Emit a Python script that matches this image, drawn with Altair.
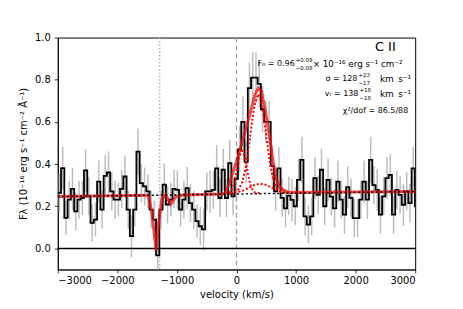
import altair as alt
import numpy as np
import pandas as pd

# ---------------- data ----------------
V_START = -3000
BIN_WIDTH = 55

flux = [0.263, 0.381, 0.145, 0.231, 0.282, 0.176, 0.231, 0.239, 0.370, 0.247,
        0.121, 0.137, 0.317, 0.184, 0.344, 0.360, 0.270, 0.231, 0.231, 0.282,
        0.341, 0.184, 0.058, 0.184, 0.459, 0.310, 0.294, 0.270, 0.184, 0.137,
        -0.033, 0.184, 0.302, 0.208, 0.231, 0.282, 0.278, 0.184, 0.231, 0.286,
        0.215, 0.184, 0.129, 0.105, 0.090, 0.270, 0.270, 0.278, 0.380, 0.239,
        0.373, 0.239, 0.404, 0.247, 0.330, 0.470, 0.600, 0.410, 0.760, 0.810,
        0.810, 0.780, 0.660, 0.600, 0.600, 0.390, 0.270, 0.380, 0.240, 0.190,
        0.250, 0.230, 0.200, 0.325, 0.420, 0.152, 0.113, 0.152, 0.333, 0.254,
        0.373, 0.200, 0.325, 0.246, 0.190, 0.317, 0.231, 0.160, 0.290, 0.240,
        0.144, 0.144, 0.231, 0.317, 0.231, 0.420, 0.300, 0.278, 0.160, 0.247,
        0.333, 0.349, 0.160, 0.278, 0.254, 0.207, 0.270, 0.215, 0.380, 0.200]

err = [0.09, 0.10, 0.08, 0.09, 0.10, 0.09, 0.09, 0.08, 0.10, 0.09,
       0.09, 0.08, 0.10, 0.09, 0.10, 0.10, 0.09, 0.09, 0.08, 0.09,
       0.10, 0.09, 0.10, 0.08, 0.11, 0.09, 0.09, 0.08, 0.09, 0.09,
       0.11, 0.09, 0.10, 0.09, 0.08, 0.09, 0.09, 0.08, 0.09, 0.10,
       0.09, 0.09, 0.08, 0.09, 0.10, 0.09, 0.10, 0.09, 0.11, 0.09,
       0.10, 0.09, 0.11, 0.09, 0.10, 0.11, 0.12, 0.10, 0.12, 0.12,
       0.12, 0.11, 0.11, 0.10, 0.10, 0.10, 0.09, 0.10, 0.09, 0.09,
       0.09, 0.10, 0.09, 0.10, 0.11, 0.09, 0.09, 0.09, 0.10, 0.09,
       0.10, 0.09, 0.10, 0.09, 0.09, 0.10, 0.09, 0.09, 0.10, 0.09,
       0.09, 0.09, 0.09, 0.10, 0.09, 0.11, 0.09, 0.10, 0.09, 0.09,
       0.10, 0.10, 0.09, 0.09, 0.09, 0.10, 0.09, 0.09, 0.10, 0.09]

fit_v = [-3000, -1480, -1420, -1350, -1300, -1250, -1190, -1100, -1020, -900,
         -250, -190, -110, -50, 0, 60, 140, 225, 310, 365, 420, 500, 560, 615,
         670, 730, 810, 900, 3000]
fit_f = [0.246, 0.252, 0.170, -0.010, 0.140, 0.235, 0.255, 0.210, 0.245, 0.253,
         0.258, 0.262, 0.315, 0.370, 0.410, 0.470, 0.550, 0.635, 0.730, 0.760,
         0.745, 0.630, 0.520, 0.410, 0.330, 0.290, 0.272, 0.265, 0.270]

compA_v = [-200, -150, -100, -50, 0, 50, 95, 150, 200, 250, 300, 350, 400]
compA_f = [0.262, 0.263, 0.269, 0.294, 0.356, 0.437, 0.472, 0.422, 0.341, 0.287, 0.267, 0.263, 0.262]
compB_v = [-100, -50, 0, 50, 100, 150, 200, 250, 300, 365, 400, 450, 500, 550, 600, 650, 700, 750, 800, 850]
compB_f = [0.262, 0.264, 0.270, 0.285, 0.317, 0.377, 0.467, 0.576, 0.675, 0.732, 0.715, 0.639, 0.531,
           0.427, 0.349, 0.301, 0.278, 0.267, 0.263, 0.262]
compC_v = [-100, 0, 100, 200, 300, 400, 500, 600, 700, 800, 900]
compC_f = [0.263, 0.266, 0.273, 0.286, 0.301, 0.307, 0.301, 0.286, 0.273, 0.266, 0.263]

cont_v = [-3000, 3000]
cont_f = [0.246, 0.270]

line_zero_v = [0]
line_abs_v = [-1290]

xticks = [-3000, -2000, -1000, 0, 1000, 2000, 3000]
yticks = [0.0, 0.2, 0.4, 0.6, 0.8, 1.0]

# ---------------- tables ----------------
edges = V_START + BIN_WIDTH * np.arange(len(flux) + 1)
centers = edges[:-1] + BIN_WIDTH / 2
step_df = pd.DataFrame({"v": edges, "f": flux + [flux[-1]]})
err_df = pd.DataFrame({"v": centers,
                       "lo": np.array(flux) - np.array(err),
                       "hi": np.array(flux) + np.array(err)})
fit_df = pd.DataFrame({"v": fit_v, "f": fit_f})
comp_df = pd.concat([
    pd.DataFrame({"v": compA_v, "f": compA_f, "c": "A"}),
    pd.DataFrame({"v": compB_v, "f": compB_f, "c": "B"}),
    pd.DataFrame({"v": compC_v, "f": compC_f, "c": "C"}),
])
cont_df = pd.DataFrame({"v": cont_v, "f": cont_f})

xs = alt.Scale(domain=[-3000, 3000], nice=False, zero=False)
ys = alt.Scale(domain=[-0.1, 1.0], nice=False, zero=False)

YTITLE = "F\u03bb (10\u207b\u00b9\u2076 erg s\u207b\u00b9 cm\u207b\u00b2 \u00c5\u207b\u00b9)"
x_axis = alt.Axis(values=xticks, title="velocity (km/s)",
                  labelExpr="replace(format(datum.value, 'd'), '-', '\u2212')",
                  labelPadding=3, titlePadding=4)
y_axis = alt.Axis(values=yticks, format=".1f", title=YTITLE,
                  labelPadding=4, titlePadding=6)

X = alt.X("v:Q", scale=xs, axis=x_axis, title="velocity (km/s)")
Y = alt.Y("f:Q", scale=ys, axis=y_axis, title=YTITLE)

errbars = alt.Chart(err_df).mark_rule(color="#bdbdbd", strokeWidth=1.5, clip=True).encode(
    x=X,
    y=alt.Y("lo:Q", scale=ys, axis=y_axis, title=YTITLE),
    y2="hi:Q",
)

vzero = alt.Chart(pd.DataFrame({"v": line_zero_v})).mark_rule(
    color="#a0a0a0", strokeWidth=1.3, strokeDash=[5, 3]).encode(x=X)
vabs = alt.Chart(pd.DataFrame({"v": line_abs_v})).mark_rule(
    color="#b0b0b0", strokeWidth=1.5, strokeDash=[1.5, 2]).encode(x=X)
hzero = alt.Chart(pd.DataFrame({"f": [0.0]})).mark_rule(
    color="black", strokeWidth=1.5).encode(y=Y)

steps = alt.Chart(step_df).mark_line(
    interpolate="step-after", color="black", strokeWidth=1.8, clip=True).encode(x=X, y=Y)

fit = alt.Chart(fit_df).mark_line(color="#ee1111", opacity=0.75, strokeWidth=3, clip=True).encode(x=X, y=Y)

comps = alt.Chart(comp_df).mark_line(color="red", strokeDash=[2, 2], strokeWidth=2, clip=True).encode(
    x=X, y=Y, detail="c:N")

cont = alt.Chart(cont_df).mark_line(color="black", strokeDash=[2, 2.5], strokeWidth=1.5, clip=True).encode(
    x=X, y=Y)

one = pd.DataFrame({"a": [0]})


def txt(x, y, s, size=8, align="left", baseline="middle"):
    return alt.Chart(one).mark_text(
        font="DejaVu Sans", fontSize=size, align=align, baseline=baseline, color="black"
    ).encode(x=alt.value(x), y=alt.value(y), text=alt.value(s))


texts = [
    txt(329, 10, "C II", size=13, align="center"),
    txt(238, 26.5, "F\u2080 = 0.96", align="right"),
    txt(239, 22.5, "+0.09", size=5.5),
    txt(239, 30.5, "\u22120.08", size=5.5),
    txt(256, 26.5, "\u00d7 10\u207b\u00b9\u2076 erg s\u207b\u00b9 cm\u207b\u00b2", size=8.8),
    txt(301, 42, "\u03c3 = 128", align="right"),
    txt(302, 38, "+23", size=5.5),
    txt(302, 46, "\u221217", size=5.5),
    txt(355, 42, "km\u2002s\u207b\u00b9", size=9, align="right"),
    txt(302, 57, "v\u1d63 = 138", align="right"),
    txt(303, 53, "+18", size=5.5),
    txt(303, 61, "\u221218", size=5.5),
    txt(355, 57, "km\u2002s\u207b\u00b9", size=9, align="right"),
    txt(352, 74, "\u03c7\u00b2/dof = 86.5/88", align="right"),
]

chart = alt.layer(errbars, vzero, vabs, hzero, steps, fit, comps, cont, *texts).properties(
    width=359, height=233,
    padding={"left": 50, "top": 29, "right": 40, "bottom": 37},
    autosize=alt.AutoSizeParams(type="none"),
).configure_axis(
    labelFont="DejaVu Sans", labelFontSize=10, labelColor="black",
    titleFont="DejaVu Sans", titleFontSize=10, titleFontWeight="normal", titleColor="black",
    tickColor="black", tickSize=3.5, tickWidth=0.8, domainColor="black", domainWidth=0.8,
    grid=False,
).configure_view(stroke="black", strokeWidth=1)

chart.save("out.html", embed_options={"renderer": "svg", "actions": False})
